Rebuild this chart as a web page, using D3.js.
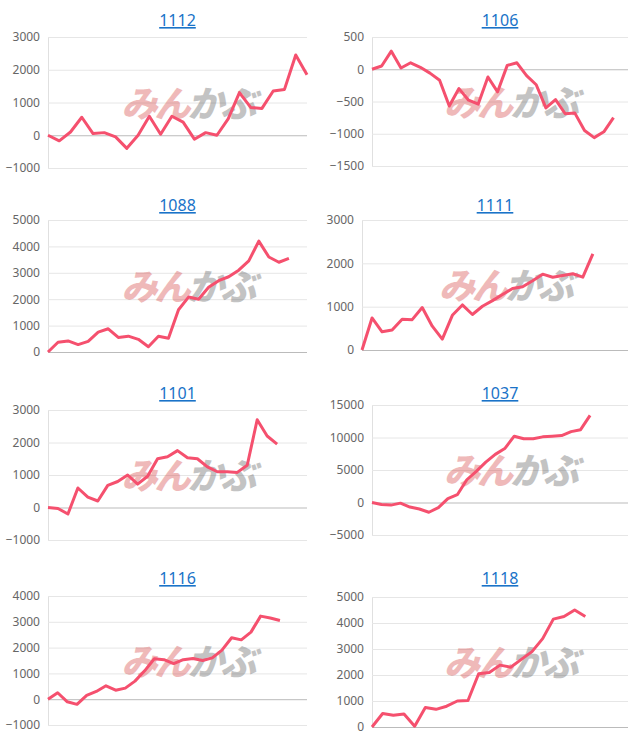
<!DOCTYPE html>
<html><head><meta charset="utf-8">
<script src="https://cdn.jsdelivr.net/npm/d3@7"></script>
<style>body{margin:0;background:#fff;font-family:"Noto Sans",Roboto,sans-serif;}</style>
</head><body><svg id="c" width="640" height="745"></svg>
<script>
var titles=['1112','1106','1088','1111','1101','1037','1116','1118'];
var s1112=[0,-170,100,550,50,80,-50,-400,0,580,30,580,400,-120,80,0,500,1300,850,820,1350,1400,2450,1850];
var s1106=[0,50,280,20,100,30,-60,-170,-570,-300,-480,-540,-120,-350,60,100,-100,-240,-600,-470,-690,-680,-950,-1060,-970,-750];
var s1088=[0,370,420,280,400,750,880,550,600,480,200,600,520,1600,2080,2000,2450,2700,2850,3100,3450,4200,3600,3400,3550];
var s1111=[0,740,420,460,710,700,980,550,250,800,1040,820,1010,1140,1280,1420,1460,1600,1750,1680,1720,1760,1680,2220];
var s1101=[0,-30,-200,600,320,200,680,800,1000,720,960,1500,1560,1750,1530,1500,1250,1100,1100,1080,1300,2700,2200,1950];
var s1037=[0,-300,-400,-100,-700,-1000,-1500,-800,600,1200,3500,4800,6200,7400,8300,10200,9800,9800,10100,10200,10300,10900,11200,13400];
var s1116=[0,250,-100,-200,150,300,520,350,430,700,1100,1570,1530,1380,1530,1580,1500,1600,1900,2380,2300,2600,3220,3150,3050];
var s1118=[0,520,450,500,30,750,680,800,1000,1020,2050,2100,2380,2300,2600,2900,3400,4150,4250,4500,4250];
var series=[s1112,s1106,s1088,s1111,s1101,s1037,s1116,s1118];
var yTicks=[[-1000,0,1000,2000,3000],[-1500,-1000,-500,0,500],[0,1000,2000,3000,4000,5000],[0,1000,2000,3000],
  [-1000,0,1000,2000,3000],[-5000,0,5000,10000,15000],[-1000,0,1000,2000,3000,4000],[0,1000,2000,3000,4000,5000]];

// layout per chart: [plotLeft, plotRight, yTop, yBottom, titleY, slots]
var boxes=[[48,307,37,168,20,23],[372,628,37,166,20,26.5],[48,307,220,352,205,25.8],[362,628,220,350,205,26.5],
  [48,307,410,540,393,26],[372,628,405,535,393,27],[48,307,596,725,578,26.8],[372,628,597,727,578,24]];

var svg=d3.select('#c');
boxes.forEach(function(b,k){
  var data=series[k], tk=yTicks[k];
  var x=d3.scaleLinear().domain([0,b[5]]).range([b[0],b[1]]);
  var y=d3.scaleLinear().domain([tk[0],tk[tk.length-1]]).range([b[3],b[2]]);
  var g=svg.append('g');
  g.append('text').attr('x',(b[0]+b[1])/2).attr('y',b[4]+6).attr('text-anchor','middle')
    .style('font-size','16px').style('fill','#1a73c8').style('text-decoration','underline').text(titles[k]);
  var ax=g.append('g').attr('transform','translate('+b[0]+',0)')
    .call(d3.axisLeft(y).tickValues(tk).tickSize(-(b[1]-b[0])).tickPadding(8).tickFormat(d3.format('d')));
  ax.select('.domain').attr('stroke','#e0e0e0');
  ax.selectAll('.tick line').attr('stroke',function(d){return d===0?'#bbb':'#e6e6e6';});
  ax.selectAll('.tick text').style('font-size','12px').style('fill','#666').style('font-family','"Noto Sans",sans-serif');
  // watermark
  var wx=(b[0]+b[1])/2+10, wy=(b[2]+b[3])/2+14;
  var wm=g.append('text').attr('x',wx).attr('y',wy).attr('text-anchor','middle').attr('letter-spacing',-3)
    .style('font-size','36px').style('font-weight','900').style('font-style','italic').style('font-family','"Noto Sans CJK JP"').style('opacity',0.35);
  wm.append('tspan').style('fill','#d23a3a').text('みん');
  wm.append('tspan').style('fill','#555').text('かぶ');
  var line=d3.line().x(function(d,i){return x(i);}).y(function(d){return y(d);});
  g.append('path').attr('d',line(data)).attr('fill','none').attr('stroke','#f5506e').attr('stroke-width',3).attr('stroke-linejoin','round');
});
</script></body></html>
